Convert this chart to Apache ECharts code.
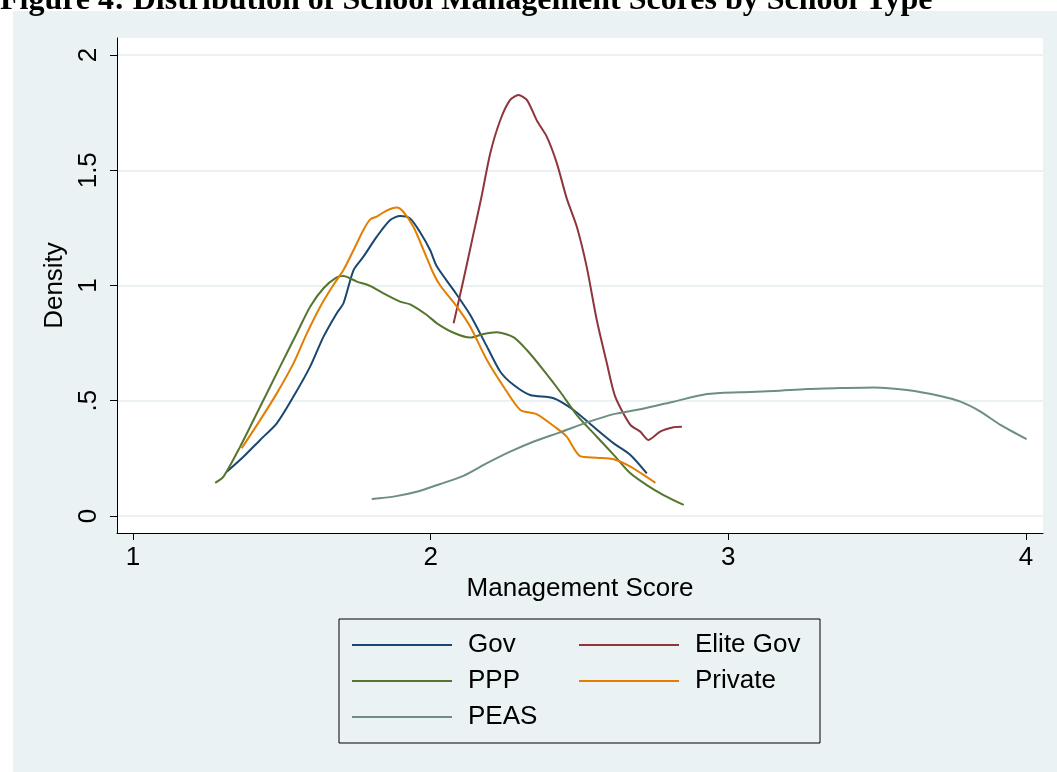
<!DOCTYPE html>
<html>
<head>
<meta charset="utf-8">
<script src="https://cdn.jsdelivr.net/npm/echarts@6/dist/echarts.min.js"></script>
<style>
  html, body { margin: 0; padding: 0; background: #ffffff; }
  #chart { width: 1057px; height: 772px; }
</style>
</head>
<body>
<div id="chart"></div>
<script>
// Kernel density estimates of the management score, one curve per school type: [score, density]
const govData = [[1.315,0.192],[1.371,0.257],[1.427,0.330],[1.483,0.402],[1.539,0.518],[1.595,0.648],[1.640,0.778],[1.684,0.879],[1.707,0.923],[1.741,1.067],[1.774,1.125],[1.819,1.212],[1.864,1.284],[1.897,1.301],[1.931,1.291],[1.965,1.230],[1.998,1.154],[2.021,1.082],[2.077,0.980],[2.133,0.872],[2.189,0.735],[2.234,0.626],[2.279,0.568],[2.334,0.525],[2.413,0.511],[2.480,0.460],[2.547,0.387],[2.615,0.315],[2.671,0.265],[2.726,0.185]];
const eliteGovData = [[2.077,0.836],[2.110,1.024],[2.144,1.226],[2.172,1.393],[2.200,1.573],[2.234,1.718],[2.267,1.805],[2.295,1.826],[2.323,1.805],[2.357,1.715],[2.390,1.646],[2.424,1.530],[2.457,1.378],[2.491,1.255],[2.524,1.082],[2.558,0.850],[2.592,0.662],[2.620,0.518],[2.671,0.395],[2.704,0.366],[2.732,0.330],[2.771,0.366],[2.816,0.385],[2.844,0.387]];
const pppData = [[1.276,0.144],[1.304,0.171],[1.360,0.301],[1.427,0.474],[1.494,0.648],[1.550,0.792],[1.595,0.908],[1.640,0.988],[1.684,1.035],[1.707,1.041],[1.752,1.017],[1.797,0.998],[1.841,0.966],[1.897,0.930],[1.931,0.918],[1.987,0.872],[2.021,0.836],[2.077,0.795],[2.133,0.774],[2.178,0.790],[2.222,0.797],[2.279,0.775],[2.323,0.720],[2.379,0.633],[2.435,0.539],[2.491,0.438],[2.558,0.344],[2.615,0.265],[2.671,0.185],[2.726,0.134],[2.782,0.091],[2.850,0.048]];
const privateData = [[1.365,0.294],[1.427,0.416],[1.483,0.532],[1.539,0.662],[1.584,0.792],[1.629,0.908],[1.673,1.002],[1.707,1.067],[1.741,1.154],[1.774,1.241],[1.797,1.287],[1.819,1.299],[1.852,1.325],[1.886,1.338],[1.908,1.320],[1.942,1.255],[1.976,1.154],[2.009,1.053],[2.032,1.000],[2.088,0.908],[2.133,0.821],[2.189,0.677],[2.245,0.561],[2.301,0.460],[2.357,0.441],[2.424,0.380],[2.457,0.344],[2.502,0.260],[2.558,0.253],[2.615,0.246],[2.671,0.214],[2.755,0.144]];
const peasData = [[1.802,0.074],[1.875,0.084],[1.953,0.105],[2.032,0.139],[2.110,0.174],[2.189,0.229],[2.267,0.279],[2.345,0.322],[2.435,0.363],[2.525,0.406],[2.615,0.442],[2.704,0.463],[2.816,0.496],[2.928,0.529],[3.040,0.537],[3.153,0.542],[3.264,0.551],[3.376,0.555],[3.488,0.558],[3.600,0.547],[3.712,0.521],[3.780,0.496],[3.847,0.453],[3.914,0.395],[4.002,0.333]];

const seriesNames = ['Gov', 'Elite Gov', 'PPP', 'Private', 'PEAS'];
const xTickValues = [1, 2, 3, 4];
const xTickLabels = ['1', '2', '3', '4'];
const yTickValues = [0, 0.5, 1, 1.5, 2];
const yTickLabels = ['0', '.5', '1', '1.5', '2'];

const titleText = 'Figure 4: Distribution of School Management Scores by School Type';
const xTitle = 'Management Score';
const yTitle = 'Density';

const colors = ['#1a476f', '#90353b', '#55752f', '#e37e00', '#6e8e84'];
const sans = '"Liberation Sans", Arial, Helvetica, sans-serif';
const bgColor = '#eaf2f3';
const textSize = 26;

const seriesData = [govData, eliteGovData, pppData, privateData, peasData];

const chart = echarts.init(document.getElementById('chart'), null, { renderer: 'canvas' });

const option = {
  backgroundColor: '#ffffff',
  animation: false,
  color: colors,
  graphic: [
    {
      type: 'rect',
      z: -10,
      silent: true,
      shape: { x: 13, y: 11, width: 1044, height: 761 },
      style: { fill: bgColor }
    },
    {
      type: 'text',
      z: 10,
      silent: true,
      x: 0,
      y: 17,
      style: {
        text: titleText,
        font: 'bold 32px "Liberation Serif", "Times New Roman", serif',
        fill: '#000000',
        verticalAlign: 'bottom'
      }
    }
  ],
  grid: {
    left: 117,
    top: 38,
    width: 926,
    height: 495,
    show: true,
    backgroundColor: '#ffffff',
    borderWidth: 0
  },
  legend: {
    data: seriesNames,
    left: 339,
    top: 619,
    width: 470,
    orient: 'horizontal',
    padding: [8, 14, 8, 13],
    itemGap: 0,
    itemWidth: 100,
    itemHeight: 2,
    icon: 'rect',
    borderColor: '#000000',
    borderWidth: 1,
    backgroundColor: 'transparent',
    textStyle: {
      fontFamily: sans,
      fontSize: textSize,
      color: '#000000',
      width: 111,
      lineHeight: 36,
      padding: [0, 0, 0, 11]
    }
  },
  xAxis: {
    type: 'value',
    min: 0.9462,
    max: 4.0571,
    name: xTitle,
    nameLocation: 'middle',
    nameGap: 43,
    nameTextStyle: { fontFamily: sans, fontSize: textSize, color: '#000000' },
    axisLine: { show: true, onZero: false, lineStyle: { color: '#000000', width: 1 } },
    axisTick: { show: true, customValues: xTickValues, length: 7, lineStyle: { color: '#000000', width: 1 } },
    axisLabel: {
      customValues: xTickValues,
      margin: 12,
      fontFamily: sans,
      fontSize: textSize,
      color: '#000000',
      formatter: function (v) { return xTickLabels[xTickValues.indexOf(v)]; }
    },
    splitLine: { show: false }
  },
  yAxis: {
    type: 'value',
    min: -0.0738,
    max: 2.0738,
    name: yTitle,
    nameLocation: 'middle',
    nameGap: 42,
    nameRotate: 90,
    nameTextStyle: { fontFamily: sans, fontSize: textSize, color: '#000000' },
    axisLine: { show: true, onZero: false, lineStyle: { color: '#000000', width: 1 } },
    axisTick: { show: true, customValues: yTickValues, length: 7, lineStyle: { color: '#000000', width: 1 } },
    axisLabel: {
      customValues: yTickValues,
      rotate: 90,
      margin: 15,
      fontFamily: sans,
      fontSize: textSize,
      color: '#000000',
      formatter: function (v) { return yTickLabels[yTickValues.indexOf(v)]; }
    },
    splitLine: { show: true, lineStyle: { color: bgColor, width: 2 } }
  },
  series: seriesNames.map(function (name, i) {
    return {
      name: name,
      type: 'line',
      data: seriesData[i],
      showSymbol: false,
      symbol: 'none',
      smooth: 0.25,
      lineStyle: { width: 2, color: colors[i] },
      itemStyle: { color: colors[i] },
      emphasis: { disabled: true }
    };
  })
};

chart.setOption(option);
</script>
</body>
</html>
